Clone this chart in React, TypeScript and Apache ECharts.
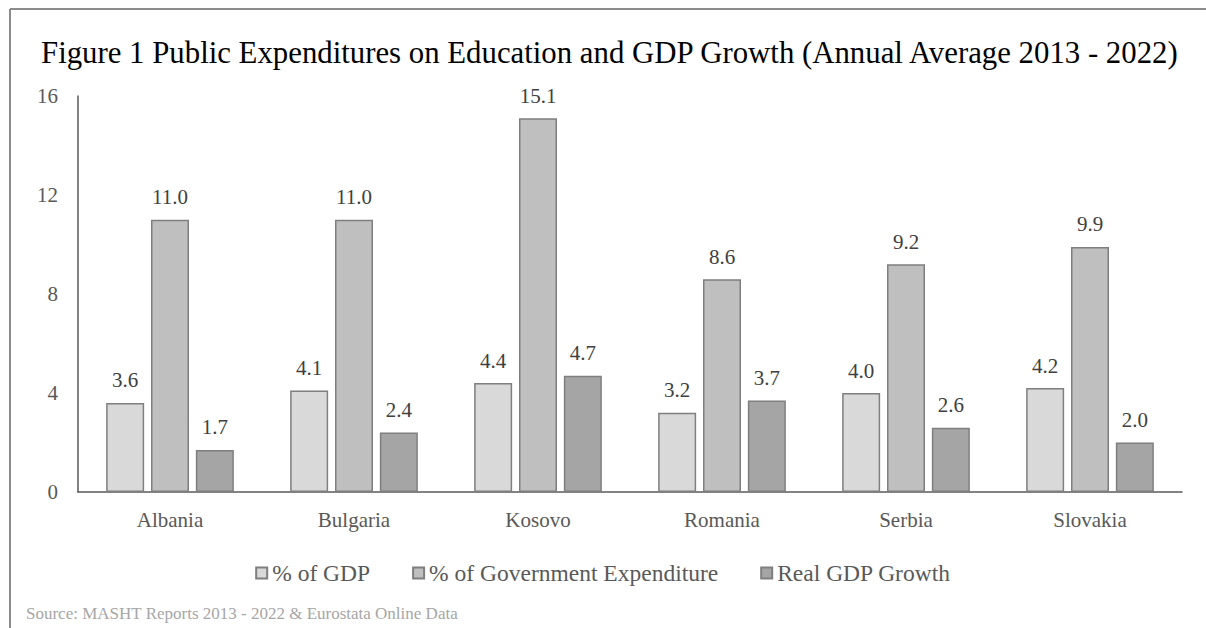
import React, { useEffect, useRef } from "react";
import * as echarts from "echarts";

const categories = ["Albania", "Bulgaria", "Kosovo", "Romania", "Serbia", "Slovakia"];
const pctGDP = [3.6, 4.1, 4.4, 3.2, 4.0, 4.2];
const pctGov = [11.0, 11.0, 15.1, 8.6, 9.2, 9.9];
const realGrowth = [1.7, 2.4, 4.7, 3.7, 2.6, 2.0];
const seriesNames = ["% of GDP", "% of Government Expenditure", "Real GDP Growth"];
const yTicks = [0, 4, 8, 12, 16];

const FONT = "'Liberation Serif', 'Times New Roman', serif";

export default function App() {
  const ref = useRef<HTMLDivElement>(null);
  useEffect(() => {
    if (!ref.current) return;
    const chart = echarts.init(ref.current, null, { renderer: "svg" });
    const mk = (name: string, data: number[], color: string) => ({
      name,
      type: "bar",
      data,
      barWidth: 38,
      barGap: "18%",
      itemStyle: { color, borderColor: "#7f7f7f", borderWidth: 1.5 },
      label: {
        show: true,
        position: "top",
        distance: 12,
        formatter: (p: any) => Number(p.value).toFixed(1),
        fontFamily: FONT,
        fontSize: 21,
        color: "#404040",
      },
    });
    chart.setOption({
      animation: false,
      backgroundColor: "#ffffff",
      title: {
        text: "Figure 1 Public Expenditures on Education and GDP Growth (Annual Average 2013 - 2022)",
        left: 36,
        top: 32,
        textStyle: { fontFamily: FONT, fontSize: 30.8, fontWeight: "normal", color: "#000000" },
      },
      grid: { left: 78, right: 24, top: 96, bottom: 136, containLabel: false },
      legend: {
        top: 556,
        left: "center",
        itemWidth: 11,
        itemHeight: 11,
        itemGap: 42,
        icon: "rect",
        textStyle: { fontFamily: FONT, fontSize: 23.5, color: "#595959" },
        data: seriesNames,
      },
      xAxis: {
        type: "category",
        data: categories,
        axisLine: { lineStyle: { color: "#595959", width: 1.5 } },
        axisTick: { show: true, inside: true, alignWithLabel: true, length: 5, lineStyle: { color: "#595959" } },
        axisLabel: { fontFamily: FONT, fontSize: 21, color: "#595959", margin: 17 },
      },
      yAxis: {
        type: "value",
        min: yTicks[0],
        max: yTicks[yTicks.length - 1],
        interval: 4,
        axisLine: { show: true, lineStyle: { color: "#595959", width: 1.5 } },
        axisTick: { show: false },
        splitLine: { show: false },
        axisLabel: { fontFamily: FONT, fontSize: 21, color: "#595959", margin: 20 },
      },
      graphic: [
        { type: "line", shape: { x1: 10, y1: 9, x2: 1206, y2: 9 }, style: { stroke: "#8c8c8c", lineWidth: 2 } },
        { type: "line", shape: { x1: 10, y1: 9, x2: 10, y2: 628 }, style: { stroke: "#8c8c8c", lineWidth: 2 } },
        {
          type: "text",
          left: 26,
          top: 605,
          style: { text: "Source: MASHT Reports 2013 - 2022 & Eurostata Online Data", fontFamily: FONT, fontSize: 17, fill: "#a6a6a6" },
        },
      ],
      series: [
        mk(seriesNames[0], pctGDP, "#d9d9d9"),
        mk(seriesNames[1], pctGov, "#bfbfbf"),
        mk(seriesNames[2], realGrowth, "#a5a5a5"),
      ],
    });
    return () => chart.dispose();
  }, []);
  return <div ref={ref} style={{ position: "fixed", left: 0, top: 0, width: 1206, height: 628 }} />;
}
